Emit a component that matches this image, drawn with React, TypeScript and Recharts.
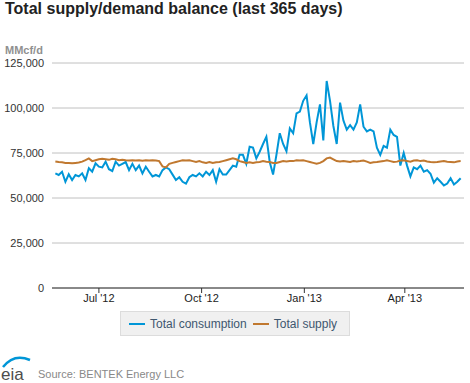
import { LineChart, Line, XAxis, YAxis, CartesianGrid, Legend } from 'recharts';

const DAY = 86400000;
const START = Date.UTC(2012, 4, 23);
const STEP_DAYS = 3;

// MMcf/d, one reading every 3 days
const consumption = [
  63700, 62800, 64600, 59000, 63200, 60000, 62800, 62000, 63700, 60000,
  66500, 64600, 69300, 67400, 67000, 70200, 66000, 65000, 70200, 68000,
  69000, 70000, 65500, 69000, 65500, 68000, 63700, 67400, 64600, 62000,
  62800, 62000, 65500, 67000, 66000, 63000, 60000, 61500, 59000, 58000,
  61500, 62800, 62000, 63700, 62000, 64600, 62800, 65500, 59000, 66000,
  63000, 63000, 65500, 68000, 67400, 74000, 74000, 69000, 78500, 78000,
  72000, 75700, 80000, 84000, 70000, 63000, 74000, 86000, 80000, 76000,
  88700, 86000, 97000, 98000, 104000, 107000, 92000, 80000, 92000, 102000,
  82000, 115000, 104000, 90000, 80000, 103000, 93000, 88000, 90500, 88000,
  92000, 102000, 89600, 87000, 88000, 87000, 78000, 74000, 79000, 78000,
  88000, 85000, 84000, 68000, 75000, 68000, 62000, 67000, 66000, 68000,
  64600, 65500, 63500, 58500, 61000, 59000, 57000, 58000, 61000, 57500,
  59000, 61000,
];

const supply = [
  70300, 70000, 69800, 69500, 69500, 69300, 69500, 69700, 70200, 71000,
  72000, 70500, 71000, 71500, 71800, 71500, 71200, 71800, 71500, 71000,
  71300, 71000, 70800, 71000, 70800, 71000, 70700, 71000, 70800, 71000,
  70800, 70500, 67500, 67000, 69000, 69500, 70000, 70500, 71000, 70800,
  71000, 70500, 70000, 70500, 69800, 69500, 70000, 69500, 69800, 70000,
  70500, 71000, 71500, 72000, 71500, 70500, 70000, 69500, 69800, 69500,
  69800, 70000, 70500, 70200, 70000, 69500, 69500, 70000, 70500, 70300,
  70500, 70500, 71000, 70800, 71000, 70500, 70000, 69500, 69000, 69500,
  70500, 72000, 72500, 71500, 70500, 70300, 70500, 70300, 70000, 70500,
  70300, 70500, 70800, 70200, 69500, 69800, 70000, 70300, 70500, 71000,
  70500, 70000, 70200, 70800, 71000, 70500, 70200, 70800, 71000, 70500,
  70800, 70300, 70000, 69800, 70000, 70300, 70500, 70200, 70000, 69800,
  70300, 70500,
];

const xTicks = [Date.UTC(2012, 6, 1), Date.UTC(2012, 9, 1), Date.UTC(2013, 0, 1), Date.UTC(2013, 3, 1)];
const yTicks = [0, 25000, 50000, 75000, 100000, 125000];
const MONTHS = ['Jan', 'Feb', 'Mar', 'Apr', 'May', 'Jun', 'Jul', 'Aug', 'Sep', 'Oct', 'Nov', 'Dec'];

const BLUE = '#0096d7';
const BROWN = '#c0782f';
const FONT = '"Liberation Sans", Arial, sans-serif';

const rows = consumption.map((c, i) => ({
  t: START + i * STEP_DAYS * DAY,
  consumption: c,
  supply: supply[i],
}));

const fmtDate = (t: number) => {
  const d = new Date(t);
  return `${MONTHS[d.getUTCMonth()]} '${String(d.getUTCFullYear()).slice(2)}`;
};

function LegendBox(props: any) {
  const items = props.payload || [];
  return (
    <div
      style={{
        width: 228,
        height: 23,
        background: '#f0f0f0',
        border: '1px solid #dcdcdc',
        display: 'flex',
        alignItems: 'center',
        fontFamily: FONT,
        fontSize: 12,
        color: '#3e576f',
      }}
    >
      {items.map((it: any, i: number) => (
        <span key={i} style={{ display: 'flex', alignItems: 'center', marginLeft: i === 0 ? 8 : 6 }}>
          <span style={{ display: 'inline-block', width: 16, height: 2, background: it.color, marginRight: 5 }} />
          <span>{it.value}</span>
        </span>
      ))}
    </div>
  );
}

export default function App() {
  return (
    <div style={{ position: 'absolute', left: 0, top: 0, width: 470, height: 383, background: '#fff', fontFamily: FONT }}>
      <div style={{ position: 'absolute', left: 5, top: 1, fontSize: 16, lineHeight: '16px', fontWeight: 'bold', color: '#222', whiteSpace: 'nowrap' }}>
        Total supply/demand balance (last 365 days)
      </div>
      <div style={{ position: 'absolute', left: 5, top: 45, fontSize: 11, lineHeight: '11px', fontWeight: 'bold', color: '#909090' }}>
        MMcf/d
      </div>
      <LineChart width={470} height={383} data={rows} margin={{ top: 63, right: 6, bottom: 65, left: 0 }}>
        <CartesianGrid vertical={false} stroke="#c0c0c0" />
        <XAxis
          dataKey="t"
          type="number"
          scale="time"
          domain={[Date.UTC(2012, 4, 20), Date.UTC(2013, 4, 24)]}
          ticks={xTicks}
          tickFormatter={fmtDate}
          stroke="#333"
          tickSize={5}
          tickMargin={1}
          tick={{ fontSize: 11, fill: '#222', fontFamily: FONT }}
        />
        <YAxis
          width={52}
          domain={[0, 125000]}
          ticks={yTicks}
          axisLine={false}
          tickLine={false}
          tickSize={0}
          tickMargin={8}
          tickFormatter={(v: number) => v.toLocaleString('en-US')}
          tick={{ fontSize: 11, fill: '#333', fontFamily: FONT }}
        />
        <Legend
          layout="horizontal"
          verticalAlign="middle"
          align="center"
          wrapperStyle={{ left: 120, top: 311, width: 230, height: 25 }}
          content={LegendBox}
        />
        <Line name="Total consumption" dataKey="consumption" stroke={BLUE} strokeWidth={2} dot={false} isAnimationActive={false} />
        <Line name="Total supply" dataKey="supply" stroke={BROWN} strokeWidth={2} dot={false} isAnimationActive={false} />
      </LineChart>
      <svg style={{ position: 'absolute', left: 0, top: 352 }} width={34} height={31}>
        <path d="M3 15 Q 14 1 30 8" fill="none" stroke={BLUE} strokeWidth={2.5} />
        <text x={1} y={28} fontSize={17} fill="#4d4d4d" fontFamily={FONT}>eia</text>
      </svg>
      <div style={{ position: 'absolute', left: 38, top: 369, fontSize: 11, lineHeight: '11px', color: '#888', whiteSpace: 'nowrap' }}>
        Source: BENTEK Energy LLC
      </div>
    </div>
  );
}
